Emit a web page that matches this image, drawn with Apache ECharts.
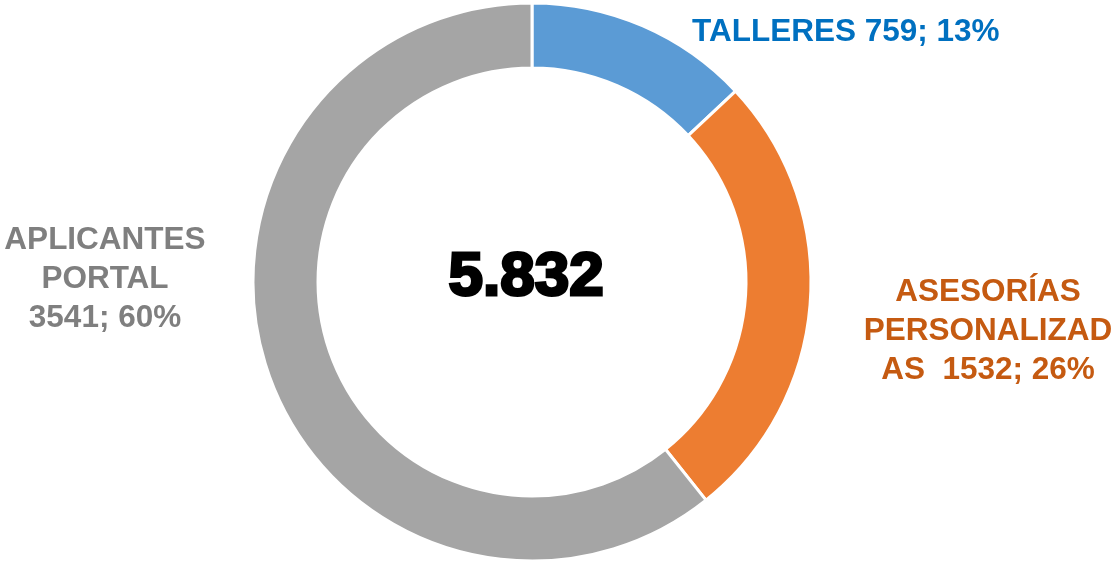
<!DOCTYPE html>
<html>
<head>
<meta charset="utf-8">
<style>html,body{margin:0;padding:0;background:#fff;}#c{width:1119px;height:564px;}</style>
<script src="https://cdn.jsdelivr.net/npm/echarts@6/dist/echarts.min.js"></script>
</head>
<body>
<div id="c"></div>
<script>
const categories = ['TALLERES', 'ASESORÍAS PERSONALIZADAS', 'APLICANTES PORTAL'];
const values = [759, 1532, 3541];
const percents = [13, 26, 60];
const totalLabel = '5.832';
const sliceColors = ['#5B9BD5', '#ED7D31', '#A5A5A5'];
const textColors = ['#0070C0', '#C55A11', '#7F7F7F'];

const labelLines = [
  (v, p) => 'TALLERES ' + v + '; ' + p + '%',
  (v, p) => 'ASESORÍAS\nPERSONALIZAD\nAS  ' + v + '; ' + p + '%',
  (v, p) => 'APLICANTES\nPORTAL\n' + v + '; ' + p + '%'
];
const labelPos = [
  {x: 692, y: 32, align: 'left'},
  {x: 988, y: 331, align: 'center'},
  {x: 105, y: 279, align: 'center'}
];

const chart = echarts.init(document.getElementById('c'));
chart.setOption({
  animation: false,
  graphic: [{
    type: 'text',
    left: 447, top: 245,
    style: {
      text: totalLabel,
      font: 'bold 62px "Liberation Sans", Arial, sans-serif',
      fill: '#000',
      stroke: '#000',
      lineWidth: 3
    },
    z: 10
  }],
  series: [{
    type: 'pie',
    center: [532, 282],
    radius: [214, 279],
    startAngle: 90,
    clockwise: true,
    avoidLabelOverlap: false,
    itemStyle: {borderColor: '#fff', borderWidth: 3},
    label: {
      show: true,
      position: 'outside',
      fontFamily: '"Liberation Sans", Arial, sans-serif',
      fontWeight: 'bold',
      fontSize: 31.5,
      lineHeight: 39,
      formatter: p => labelLines[p.dataIndex](values[p.dataIndex], percents[p.dataIndex])
    },
    labelLine: {show: false},
    labelLayout: p => ({
      x: labelPos[p.dataIndex].x,
      y: labelPos[p.dataIndex].y,
      align: labelPos[p.dataIndex].align,
      verticalAlign: 'middle'
    }),
    emphasis: {disabled: true},
    data: categories.map((c, i) => ({
      name: c,
      value: values[i],
      itemStyle: {color: sliceColors[i]},
      label: {color: textColors[i], align: labelPos[i].align}
    }))
  }]
});
</script>
</body>
</html>
